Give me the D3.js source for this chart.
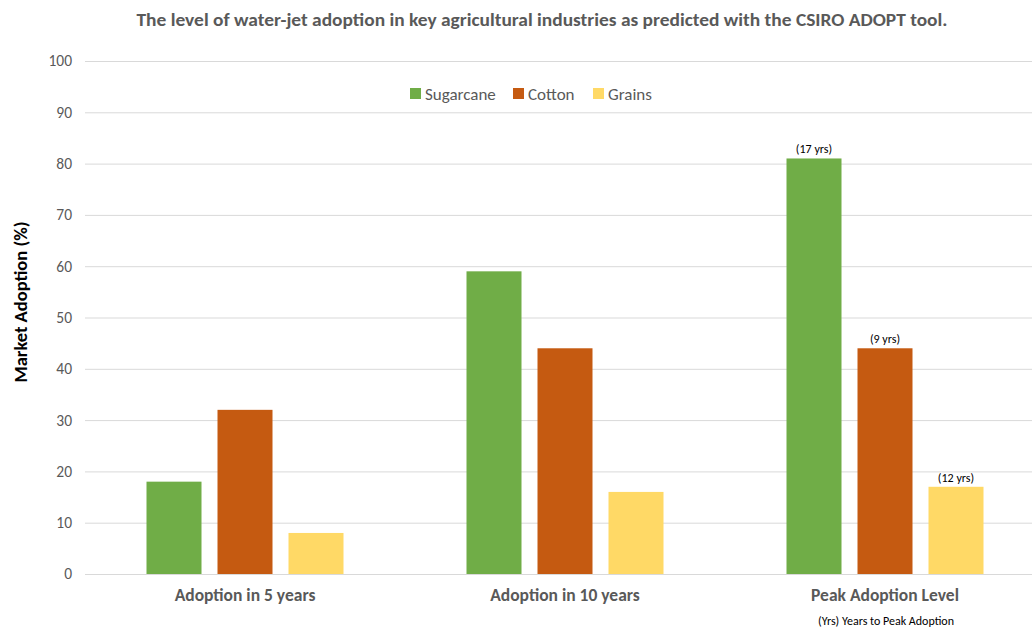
<!DOCTYPE html>
<html>
<head>
<meta charset="utf-8">
<script src="https://cdn.jsdelivr.net/npm/d3@7"></script>
<style>
  html, body { margin: 0; padding: 0; background: #fff; }
  svg { display: block; font-family: Carlito, Lato, "Open Sans", sans-serif; }
</style>
</head>
<body>
<svg id="chart" width="1032" height="628"></svg>
<script>
// Categories, series and values
const categories = ["Adoption in 5 years", "Adoption in 10 years", "Peak Adoption Level"];
const series = ["Sugarcane", "Cotton", "Grains"];
const sugarcane = [18, 59, 81];
const cotton = [32, 44, 44];
const grains = [8, 16, 17];
const yTicks = [0, 10, 20, 30, 40, 50, 60, 70, 80, 90, 100];
// Years-to-peak notes attached to the peak group
const peakNotes = ["(17 yrs)", "(9 yrs)", "(12 yrs)"];
const colors = ["#70AD47", "#C55A11", "#FFD966"];

const values = [sugarcane, cotton, grains];
const rows = categories.map((c, i) => ({
  category: c,
  bars: series.map((s, j) => ({ series: s, value: values[j][i], idx: j }))
}));

const svg = d3.select("#chart");
const plot = { left: 85, right: 1045, top: 61, bottom: 574 };

const y = d3.scaleLinear().domain([0, 100]).range([plot.bottom, plot.top]);
const x0 = d3.scaleBand().domain(categories).range([plot.left, plot.right]).padding(0);
const groupWidth = 197;
const off = (x0.bandwidth() - groupWidth) / 2;
const x1 = d3.scaleBand().domain(series).range([off, off + groupWidth])
  .paddingInner(16 / 71).paddingOuter(0);
const color = d3.scaleOrdinal().domain(series).range(colors);

// Gridlines
svg.append("g")
  .selectAll("line")
  .data(yTicks)
  .join("line")
  .attr("x1", plot.left).attr("x2", plot.right)
  .attr("y1", d => y(d) + 0.5).attr("y2", d => y(d) + 0.5)
  .attr("stroke", "#d9d9d9").attr("stroke-width", 1);

// Y axis labels
const yAxis = d3.axisLeft(y).tickValues(yTicks).tickSize(0).tickPadding(13);
svg.append("g")
  .attr("transform", `translate(${plot.left},0)`)
  .call(yAxis)
  .call(g => g.select(".domain").remove())
  .call(g => g.selectAll("text")
    .attr("fill", "#595959").attr("font-size", 15.5).attr("font-family", "Carlito, Lato, sans-serif"));

// Bars
const groups = svg.append("g")
  .selectAll("g")
  .data(rows)
  .join("g")
  .attr("transform", d => `translate(${x0(d.category)},0)`);

groups.selectAll("rect")
  .data(d => d.bars)
  .join("rect")
  .attr("x", d => x1(d.series))
  .attr("width", x1.bandwidth())
  .attr("y", d => y(d.value))
  .attr("height", d => y(0) - y(d.value))
  .attr("fill", d => color(d.series));

// Years-to-peak notes above the peak bars
const peak = rows[2];
svg.append("g")
  .attr("transform", `translate(${x0(peak.category)},0)`)
  .selectAll("text")
  .data(peak.bars)
  .join("text")
  .attr("x", d => x1(d.series) + x1.bandwidth() / 2)
  .attr("y", d => y(d.value) - 5)
  .attr("text-anchor", "middle")
  .attr("font-size", 12)
  .attr("fill", "#000")
  .text((d, i) => peakNotes[i]);

// Category labels
const xAxis = d3.axisBottom(x0).tickSize(0).tickPadding(15);
svg.append("g")
  .attr("transform", `translate(0,${plot.bottom})`)
  .call(xAxis)
  .call(g => g.select(".domain").remove())
  .call(g => g.selectAll("text")
    .attr("fill", "#595959").attr("font-size", 17.5).attr("font-weight", "bold")
    .attr("font-family", "Carlito, Lato, sans-serif"));

// Footnote under the peak group
svg.append("text")
  .attr("x", x0(peak.category) + x0.bandwidth() / 2 + 1)
  .attr("y", 625)
  .attr("text-anchor", "middle")
  .attr("font-size", 12)
  .attr("fill", "#000")
  .text("(Yrs) Years to Peak Adoption");

// Title
svg.append("text")
  .attr("x", 542)
  .attr("y", 26)
  .attr("text-anchor", "middle")
  .attr("font-size", 17)
  .attr("font-weight", "bold")
  .attr("fill", "#595959")
  .attr("textLength", 811)
  .attr("lengthAdjust", "spacingAndGlyphs")
  .text("The level of water-jet adoption in key agricultural industries as predicted with the CSIRO ADOPT tool.");

// Y axis title
svg.append("text")
  .attr("transform", "translate(27,302) rotate(-90)")
  .attr("text-anchor", "middle")
  .attr("font-size", 18.5)
  .attr("font-weight", "bold")
  .attr("fill", "#000")
  .text("Market Adoption (%)");

// Legend
const legendX = [410, 513, 593];
const legend = svg.append("g")
  .selectAll("g")
  .data(series)
  .join("g")
  .attr("transform", (d, i) => `translate(${legendX[i]},88)`);
legend.append("rect")
  .attr("width", 11).attr("height", 11)
  .attr("fill", d => color(d));
legend.append("text")
  .attr("x", 15).attr("y", 11.5)
  .attr("font-size", 17)
  .attr("fill", "#595959")
  .text(d => d);
</script>
</body>
</html>
